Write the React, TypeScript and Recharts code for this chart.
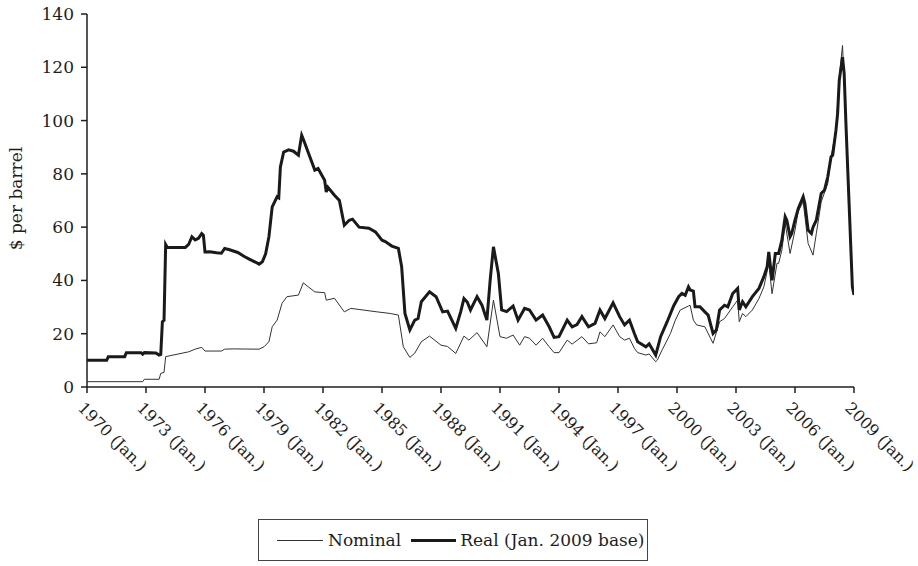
import React from 'react';
import { LineChart, Line, XAxis, YAxis, Label } from 'recharts';

const xTicks = [1970, 1973, 1976, 1979, 1982, 1985, 1988, 1991, 1994, 1997, 2000, 2003, 2006, 2009];
const yTicks = [0, 20, 40, 60, 80, 100, 120, 140];

const nominalDates = [
  '1970-01', '1972-11', '1972-12', '1973-09', '1973-10', '1973-12', '1974-01', '1975-03', '1975-07', '1975-11',
  '1976-01', '1976-11', '1977-01', '1977-06', '1978-10', '1979-01', '1979-04', '1979-06', '1979-09', '1979-12',
  '1980-03', '1980-10', '1981-01', '1981-04', '1981-08', '1982-02', '1982-03', '1982-08', '1983-02', '1983-06',
  '1983-11', '1984-10', '1985-06', '1985-11', '1986-02', '1986-06', '1986-09', '1987-01', '1987-06', '1988-01',
  '1988-05', '1988-10', '1989-03', '1989-06', '1989-11', '1990-05', '1990-09', '1991-01', '1991-05', '1991-09',
  '1992-01', '1992-04', '1992-07', '1992-11', '1993-03', '1993-07', '1993-10', '1994-01', '1994-06', '1994-09',
  '1995-03', '1995-07', '1995-12', '1996-02', '1996-05', '1996-10', '1997-02', '1997-05', '1997-08', '1997-11',
  '1998-01', '1998-06', '1998-08', '1998-12', '1999-01', '1999-04', '1999-07', '1999-09', '1999-12', '2000-03',
  '2000-08', '2000-09', '2000-11', '2001-01', '2001-06', '2001-11', '2002-03', '2002-06', '2002-11', '2003-02',
  '2003-03', '2003-05', '2003-07', '2003-11', '2004-03', '2004-06', '2004-09', '2004-11', '2005-02', '2005-03',
  '2005-05', '2005-07', '2005-10', '2006-01', '2006-03', '2006-06', '2006-09', '2006-12', '2007-02', '2007-05',
  '2007-09', '2007-11', '2008-02', '2008-04', '2008-06', '2008-08', '2008-12', '2009-01',
];
const nominalValues = [
  2.0, 2.0, 2.9, 2.9, 5.1, 5.5, 11.4, 13.2, 14.2, 14.9,
  13.5, 13.5, 14.2, 14.3, 14.2, 15.1, 17.0, 22.6, 25.1, 31.4,
  33.9, 34.5, 39.1, 37.6, 35.7, 35.4, 32.6, 33.3, 28.2, 29.5,
  29.1, 28.2, 27.6, 27.0, 15.1, 11.1, 12.7, 17.0, 19.1, 15.7,
  15.2, 12.6, 19.1, 17.6, 20.4, 15.1, 32.6, 18.9, 18.3, 19.5,
  15.7, 18.9, 18.3, 15.7, 18.3, 15.1, 12.9, 12.9, 17.6, 16.1,
  18.9, 16.2, 16.6, 20.7, 18.9, 23.3, 18.9, 17.6, 18.3, 14.5,
  12.9, 12.0, 12.4, 9.5, 10.1, 14.0, 17.6, 20.1, 25.1, 28.9,
  30.4, 30.7, 25.1, 23.3, 22.6, 16.4, 24.5, 25.7, 30.1, 32.6,
  24.5, 27.6, 26.4, 28.9, 33.2, 37.6, 46.4, 35.0, 46.4, 46.4,
  51.4, 61.4, 50.1, 58.9, 66.0, 69.5, 53.9, 49.5, 57.6, 69.5,
  76.4, 86.4, 96.4, 116.0, 128.2, 101.0, 37.6, 34.5,
];

const realDates = [
  '1970-01', '1971-01', '1971-02', '1971-12', '1972-01', '1972-10', '1972-11', '1972-12', '1973-07', '1973-09',
  '1973-10', '1973-11', '1973-12', '1974-01', '1974-02', '1975-01', '1975-03', '1975-05', '1975-07', '1975-09',
  '1975-11', '1975-12', '1976-01', '1976-04', '1976-08', '1976-11', '1977-01', '1977-04', '1977-09', '1978-01',
  '1978-04', '1978-08', '1978-10', '1978-12', '1979-02', '1979-04', '1979-06', '1979-09', '1979-10', '1979-11',
  '1980-01', '1980-04', '1980-07', '1980-10', '1980-12', '1981-01', '1981-04', '1981-08', '1981-10', '1982-02',
  '1982-03', '1982-04', '1982-08', '1982-11', '1983-02', '1983-05', '1983-07', '1983-11', '1984-05', '1984-09',
  '1985-01', '1985-03', '1985-07', '1985-11', '1986-01', '1986-03', '1986-06', '1986-09', '1986-11', '1987-01',
  '1987-06', '1987-10', '1988-02', '1988-05', '1988-10', '1989-01', '1989-03', '1989-05', '1989-07', '1989-11',
  '1990-02', '1990-05', '1990-07', '1990-09', '1990-12', '1991-02', '1991-05', '1991-09', '1991-12', '1992-04',
  '1992-07', '1992-11', '1993-03', '1993-07', '1993-10', '1994-01', '1994-06', '1994-09', '1994-12', '1995-03',
  '1995-07', '1995-11', '1996-02', '1996-05', '1996-10', '1997-02', '1997-05', '1997-08', '1997-11', '1998-01',
  '1998-06', '1998-08', '1998-12', '1999-03', '1999-07', '1999-11', '2000-02', '2000-04', '2000-06', '2000-08',
  '2000-09', '2000-11', '2000-12', '2001-03', '2001-06', '2001-08', '2001-11', '2002-01', '2002-03', '2002-06',
  '2002-08', '2002-11', '2003-02', '2003-03', '2003-05', '2003-07', '2003-11', '2004-03', '2004-06', '2004-08',
  '2004-09', '2004-11', '2005-01', '2005-03', '2005-05', '2005-07', '2005-08', '2005-10', '2005-11', '2006-01',
  '2006-03', '2006-06', '2006-07', '2006-09', '2006-11', '2006-12', '2007-02', '2007-05', '2007-07', '2007-09',
  '2007-11', '2007-12', '2008-02', '2008-03', '2008-04', '2008-06', '2008-07', '2008-08', '2008-10', '2008-12',
  '2009-01',
];
const realValues = [
  10.0, 10.0, 11.4, 11.4, 12.9, 12.9, 12.3, 12.9, 12.8, 12.0,
  12.2, 24.5, 25.0, 53.5, 52.4, 52.4, 53.5, 56.4, 55.2, 55.8,
  57.6, 57.0, 50.7, 50.8, 50.4, 50.2, 52.0, 51.5, 50.5, 49.0,
  48.0, 46.8, 46.1, 47.0, 50.0, 56.4, 67.6, 71.4, 71.0, 82.6,
  88.2, 89.0, 88.5, 87.0, 94.5, 93.0, 88.0, 81.4, 82.0, 77.6,
  73.2, 75.0, 72.0, 70.0, 60.7, 62.6, 63.0, 60.0, 59.6, 58.2,
  55.1, 54.6, 52.9, 52.0, 45.1, 27.6, 21.4, 25.1, 25.7, 32.0,
  35.7, 33.9, 28.2, 28.5, 22.0, 28.2, 33.2, 31.9, 28.9, 33.9,
  30.7, 25.1, 40.1, 52.6, 42.6, 28.9, 28.3, 30.4, 25.1, 29.5,
  28.9, 25.1, 27.0, 22.6, 18.6, 18.9, 25.1, 22.6, 23.4, 26.4,
  22.6, 23.9, 28.9, 25.7, 31.6, 26.4, 23.3, 25.1, 20.1, 17.0,
  15.1, 16.2, 12.0, 18.9, 24.5, 30.5, 33.9, 35.1, 34.4, 37.6,
  36.4, 36.0, 30.1, 30.1, 28.2, 27.0, 20.1, 21.4, 28.9, 30.7,
  30.1, 35.1, 37.0, 28.9, 32.0, 30.1, 33.9, 37.0, 41.4, 45.1,
  50.7, 40.0, 50.1, 50.1, 55.1, 63.9, 62.6, 56.4, 57.6, 62.6,
  67.0, 71.4, 69.0, 58.9, 57.6, 60.0, 62.6, 72.6, 73.9, 78.9,
  86.4, 87.0, 96.4, 102.6, 115.1, 123.8, 117.6, 100.1, 68.9, 37.6,
  34.5,
];

const toYear = (s: string) => Number(s.slice(0, 4)) + (Number(s.slice(5, 7)) - 1) / 12;
const nominalData = nominalDates.map((d, i) => ({ t: toYear(d), v: nominalValues[i] }));
const realData = realDates.map((d, i) => ({ t: toYear(d), v: realValues[i] }));

const FONT = '"DejaVu Serif", "Liberation Serif", serif';
const INK = '#1e1e1e';

const XTick = (props: any) => {
  const { x, y, payload } = props;
  const ax = x - 10;
  const ay = y + 14;
  return (
    <text
      x={ax}
      y={ay}
      transform={`rotate(45, ${ax}, ${ay})`}
      textAnchor="start"
      fontFamily={FONT}
      fontSize={16}
      fill={INK}
    >
      {`${payload.value} (Jan.)`}
    </text>
  );
};

const YLabel = (props: any) => {
  const vb = props.viewBox || { x: 0, y: 14, width: 87, height: 373 };
  const cx = vb.x + 16;
  const cy = vb.y + vb.height / 2 - 2;
  return (
    <text
      x={cx}
      y={cy}
      transform={`rotate(-90, ${cx}, ${cy})`}
      textAnchor="middle"
      dominantBaseline="central"
      fontFamily={FONT}
      fontSize={17}
      fill={INK}
    >
      $ per barrel
    </text>
  );
};

export default function App() {
  return (
    <div style={{ position: 'absolute', left: 0, top: 0, width: 918, height: 566, background: '#fff' }}>
      <LineChart width={918} height={566} margin={{ top: 14, right: 64, left: 0, bottom: 0 }}>
        <XAxis
          type="number"
          dataKey="t"
          domain={[1970, 2009]}
          ticks={xTicks}
          allowDataOverflow
          interval={0}
          height={179}
          tickSize={6}
          tickMargin={2}
          stroke={INK}
          strokeWidth={1.5}
          tick={<XTick />}
        />
        <YAxis
          type="number"
          domain={[0, 140]}
          ticks={yTicks}
          width={87}
          tickSize={6}
          tickMargin={7}
          stroke={INK}
          strokeWidth={1.5}
          tick={{ fontFamily: FONT, fontSize: 17, fill: INK }}
          interval={0}
        >
          <Label content={<YLabel />} />
        </YAxis>
        <Line
          data={nominalData}
          dataKey="v"
          type="linear"
          stroke="#333"
          strokeWidth={1}
          dot={false}
          isAnimationActive={false}
        />
        <Line
          data={realData}
          dataKey="v"
          type="linear"
          stroke="#1a1a1a"
          strokeWidth={3}
          dot={false}
          isAnimationActive={false}
        />
      </LineChart>
      <div
        style={{
          position: 'absolute',
          left: 258,
          top: 519,
          width: 390,
          height: 42,
          border: '1.5px solid #444',
          boxSizing: 'border-box',
          display: 'flex',
          alignItems: 'center',
          fontFamily: FONT,
          fontSize: 17,
          color: INK,
          paddingLeft: 18,
          whiteSpace: 'nowrap',
        }}
      >
        <span style={{ display: 'inline-block', width: 46, borderTop: '1px solid #333', marginRight: 5 }} />
        <span>Nominal</span>
        <span style={{ display: 'inline-block', width: 45, borderTop: '3px solid #1a1a1a', marginLeft: 10, marginRight: 4 }} />
        <span>Real (Jan. 2009 base)</span>
      </div>
    </div>
  );
}
